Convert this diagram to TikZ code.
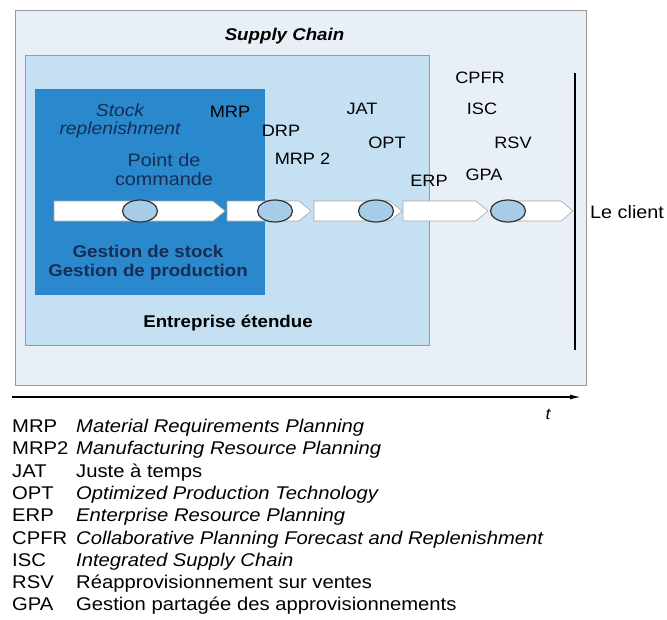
\documentclass[tikz,border=0pt]{standalone}
\usepackage{fontspec}
\setmainfont{Liberation Sans}[FakeStretch=1.1]
\usetikzlibrary{arrows.meta, shapes.geometric}
\definecolor{chainbg}{RGB}{232,239,246}
\definecolor{firmbg}{RGB}{196,224,242}
\definecolor{stockbg}{RGB}{42,137,204}
\definecolor{ringbg}{RGB}{166,204,231}
\definecolor{navytxt}{RGB}{24,44,84}
\tikzset{
    boxline/.style={draw=black!40, line width=0.8pt},
    flow/.style={draw=black!35, line width=0.6pt, fill=white},
    ring/.style={ellipse, draw=black!80, line width=1.2pt, fill=ringbg,
        minimum width=35pt, minimum height=22pt, inner sep=0pt},
    acro/.style={font=\fontsize{16.5}{18}\selectfont, inner sep=0pt, anchor=base},
    instock/.style={font=\fontsize{18}{18.5}\selectfont, inner sep=0pt,
        text=navytxt, align=center, anchor=base},
    legend/.style={font=\fontsize{18.4}{20}\selectfont, inner sep=0pt, anchor=base west}
}

\begin{document}
\begin{tikzpicture}[x=1pt, y=-1pt]
    \useasboundingbox (0,0) rectangle (667,619);
    % nested boxes
    \draw[boxline, fill=chainbg] (15,10) rectangle (586,385);
    \draw[boxline, fill=firmbg] (25,55) rectangle (429,345);
    \fill[stockbg] (35,89) rectangle (265,295);
    % flow towards the client
    \foreach \a/\b in {54/225, 227/311, 314/402, 403/488, 503/573}
        \draw[flow] (\a,201) -- (\b-12,201) -- (\b,211) -- (\b-12,221) -- (\a,221) -- cycle;
    \foreach \x [count=\i] in {140, 275, 376, 508}
        \node[ring] (ring\i) at (\x,211) {};
    \draw[line width=2.5pt] (575,73) -- (575,350);
    % time axis
    \coordinate (t0) at (12,397);
    \coordinate (t1) at (581,397);
    \draw[line width=1.4pt, -{Latex[length=11pt, width=5pt]}] (t0) -- (t1);
    \node[acro, font=\fontsize{16}{18}\selectfont\itshape] (time) at (548,419) {t};
    % labels
    \node[acro, font=\fontsize{17}{18}\selectfont\bfseries\itshape] (chain) at (284.5,40) {Supply Chain};
    \node[acro, font=\fontsize{17}{18}\selectfont\bfseries] (firm) at (228,327) {Entreprise étendue};
    \node[instock, font=\fontsize{17.5}{18}\selectfont\itshape] (repl) at (120,134) {Stock\\replenishment};
    \node[instock] (order) at (164,185) {Point de\\commande};
    \node[instock, font=\fontsize{17}{19}\selectfont\bfseries] (gest) at (148,276) {Gestion de stock\\Gestion de production};
    \node[acro] (mrp) at (230,117) {MRP};
    \node[acro] (drp) at (281,136) {DRP};
    \node[acro] (mrpii) at (302.5,164) {MRP 2};
    \node[acro] (jat) at (362,114) {JAT};
    \node[acro] (opt) at (387,148) {OPT};
    \node[acro] (erp) at (429,186) {ERP};
    \node[acro] (cpfr) at (480,83) {CPFR};
    \node[acro] (isc) at (482,114) {ISC};
    \node[acro] (rsv) at (513,148) {RSV};
    \node[acro] (gpa) at (484,180) {GPA};
    \node[acro, anchor=base west, font=\fontsize{18}{19}\selectfont] (client) at (590,218) {Le client};
    % legend
    \foreach \ab/\txt [count=\i] in {MRP/\itshape Material Requirements Planning,
        MRP2/\itshape Manufacturing Resource Planning,
        JAT/Juste à temps,
        OPT/\itshape Optimized Production Technology,
        ERP/\itshape Enterprise Resource Planning,
        CPFR/\itshape Collaborative Planning Forecast and Replenishment,
        ISC/\itshape Integrated Supply Chain,
        RSV/Réapprovisionnement sur ventes,
        GPA/Gestion partagée des approvisionnements}{
        \node[legend] (ab\i) at (12,432.5+22.3*\i-22.3) {\ab};
        \node[legend] (def\i) at (76,432.5+22.3*\i-22.3) {\txt};
    }
\end{tikzpicture}
\end{document}
